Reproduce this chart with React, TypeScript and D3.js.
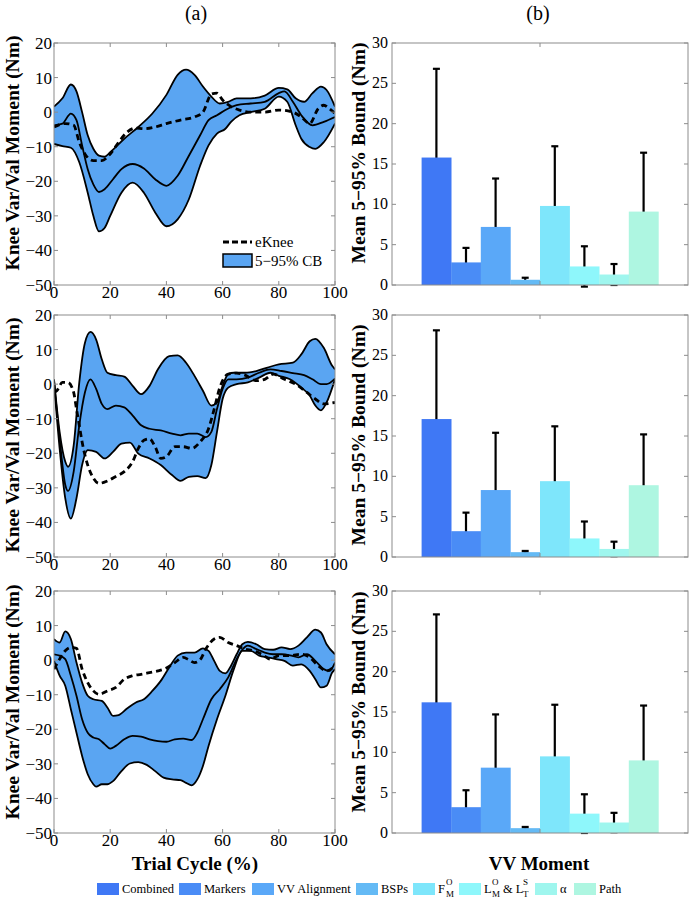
import React from "react";
import * as d3 from "d3";

// ---- bar data (panel b) ----
const categories = ["Combined", "Markers", "VV Alignment", "BSPs", "FMO", "LMO & LTS", "alpha", "Path"];
const barColors = ["#3f78f5", "#4a8cf6", "#5aa8f8", "#64baf5", "#7ee6fb", "#8ef7fb", "#9ff6ee", "#aef6e1"];

const barMeanTop = [15.8, 2.8, 7.2, 0.65, 9.8, 2.3, 1.3, 9.1];
const barErrTop = [11.0, 1.8, 6.0, 0.25, 7.4, 2.5, 1.3, 7.3];
const barMeanMid = [17.1, 3.2, 8.3, 0.6, 9.4, 2.3, 1.0, 8.9];
const barErrMid = [11.0, 2.3, 7.1, 0.15, 6.8, 2.1, 0.9, 6.3];
const barMeanBot = [16.2, 3.2, 8.1, 0.6, 9.5, 2.4, 1.3, 9.0];
const barErrBot = [10.9, 2.1, 6.6, 0.15, 6.4, 2.4, 1.2, 6.8];

// ---- curve data (panel a), [cycle %, Nm] ----
const topUpper = [[0, 1.6], [3, 4], [6, 8], [8, 6], [10, 0], [12, -6.7], [14, -10.6], [16, -12.6], [18, -12.9], [20, -11.6], [25, -7.7], [30, -4.3], [35, -0.4], [40, 5], [44, 10.8], [47, 12.3], [50, 10.8], [53, 7.4], [56, 4.5], [59, 2.5], [62, 3], [65, 4], [70, 4], [75, 4.8], [80, 7], [83, 6.6], [86, 4], [89, 3], [92, 5.5], [95, 7.4], [97, 6.4], [100, 1.6]];
const topLower = [[0, -9.2], [3, -9.8], [6, -10.3], [9, -14.5], [12, -23.3], [14, -30], [16, -34.5], [18, -33.5], [20, -30], [24, -23.3], [28, -20.4], [32, -23.3], [36, -29], [40, -33], [44, -31], [48, -25.2], [52, -15.5], [55, -9.6], [58, -6.2], [61, -4.8], [63, -2.8], [66, -0.9], [70, 0], [75, 1], [80, 4.5], [83, 3], [86, -3.8], [88, -7.7], [91, -10.1], [93, -10.6], [96, -8.7], [100, -3.3]];
const topMean = [[0, -3.8], [3, -3.3], [6, -0.4], [8, -2.3], [10, -9.6], [12, -16.5], [14, -20.9], [16, -23.1], [18, -22.3], [21, -19.4], [24, -16.5], [28, -15], [32, -16.3], [36, -19.4], [40, -21.3], [44, -18.4], [48, -12.6], [52, -6.7], [55, -2.3], [58, -0.9], [61, 0.6], [65, 2], [70, 2.5], [75, 3], [80, 5.5], [82, 6], [85, 3], [88, -0.9], [92, -3.8], [96, -2.8], [100, -1.4]];
const topKnee = [[0, -4.3], [4, -3.3], [7, -3.8], [9, -8.7], [11, -12.1], [14, -14], [17, -14], [20, -12.1], [23, -8.7], [26, -5.8], [29, -4.6], [32, -4.8], [36, -4.3], [40, -3.3], [45, -2.3], [50, -1.4], [53, 0], [56, 5.2], [58, 5.5], [60, 3.5], [63, 1.6], [66, 0.6], [70, 0], [75, 0], [80, 0.6], [85, 0], [88, -1.4], [91, -3.3], [94, 1], [96, 2], [98, 1], [100, -0.4]];

const midUpper = [[0, 1.4], [2, -13.8], [4, -22.4], [5, -23.9], [7, -17.7], [9, 0.5], [11, 11.9], [13, 15.1], [15, 12.9], [17, 7.2], [19, 3.3], [22, 2.6], [25, 2.2], [28, -0.5], [31, -2.9], [34, -0.5], [37, 4.3], [41, 8.1], [44, 8.3], [47, 6.2], [50, 2.4], [53, -1.9], [56, -6.2], [58, -5.3], [60, -0.5], [62, 2.9], [64, 3.3], [68, 3.3], [72, 3.8], [76, 4.8], [80, 5.7], [85, 6.2], [88, 8.6], [91, 12.4], [93, 13.1], [96, 10.5], [99, 5.3], [100, 4.3]];
const midLower = [[0, 0.5], [2, -18.6], [4, -33], [6, -38.9], [8, -33], [10, -23.4], [12, -19.1], [15, -19.6], [18, -21.5], [21, -19.6], [24, -17.2], [27, -16.9], [30, -20.1], [34, -21.5], [38, -23.4], [42, -26.3], [45, -28], [48, -26.8], [51, -26.6], [54, -27.2], [56, -23.4], [58, -13.8], [60, -4.3], [62, -1], [65, 0], [69, 0.5], [73, 1.9], [77, 3.3], [80, 2.4], [84, 1.4], [88, -1], [91, -3.3], [93, -6.2], [95, -7.6], [97, -5.3], [100, 1.4]];
const midMean = [[0, 1], [2, -15.8], [4, -29.1], [5, -30.9], [7, -25.3], [9, -11.9], [11, -2.4], [13, 1.4], [15, -1.4], [17, -5.7], [19, -7.2], [22, -6.2], [25, -6.7], [28, -9.1], [31, -11.9], [34, -12.9], [38, -13.4], [42, -14.3], [45, -14.8], [48, -14.3], [51, -14.3], [54, -15.3], [56, -13.8], [58, -7.2], [60, -1.4], [62, 1.4], [65, 1.4], [69, 1.9], [73, 3.3], [77, 4.3], [81, 3.8], [85, 3.2], [89, 2.6], [92, 1.4], [95, 0], [97, 0], [100, 1.6]];
const midKnee = [[0, -2.4], [1, -1.9], [3, 0.5], [5, 0.5], [7, -2.4], [8, -7.2], [9, -11.9], [10, -16.7], [12, -23.4], [14, -27.2], [16, -28.7], [19, -28], [22, -26.7], [25, -25.3], [28, -22.4], [30, -18.6], [32, -16.2], [34, -15.8], [36, -18.1], [38, -21.5], [40, -21], [43, -18.1], [46, -18.1], [49, -18.6], [52, -16.7], [55, -12.9], [57, -7.2], [59, -1], [62, 2.9], [65, 3.2], [68, 2.6], [72, 1], [75, 1.4], [78, 2.9], [82, 1.4], [86, 0], [90, -2.4], [93, -4.3], [96, -5.7], [100, -5.3]];

const botUpper = [[0, 6.1], [2, 5.1], [4, 8.3], [6, 6.1], [8, -0.7], [10, -6.5], [12, -10.3], [14, -11.3], [17, -11.8], [19, -13.7], [21, -16.1], [23, -15.9], [26, -14], [29, -12.3], [32, -11.3], [35, -8.9], [38, -6], [41, -2.1], [44, 1.3], [47, 2.2], [50, 2.2], [53, 3.4], [55, 2.7], [57, -0.2], [59, -3.1], [61, -3.8], [63, -1.6], [65, 1.7], [67, 4.6], [69, 5.3], [72, 4.6], [75, 3.2], [78, 3], [81, 3.7], [84, 3.2], [87, 4.2], [90, 6.6], [93, 8.8], [95, 8], [97, 4.6], [100, 1.7]];
const botLower = [[0, -0.2], [2, -4.5], [4, -7.4], [6, -14.2], [8, -21], [10, -27.7], [12, -33], [14, -35.9], [15, -36.6], [17, -35.9], [19, -35.9], [21, -35], [24, -32.1], [27, -29.9], [30, -29.5], [33, -30.3], [36, -32.1], [39, -34], [42, -34.5], [45, -34.7], [47, -35.5], [49, -36.2], [51, -34.5], [53, -30.6], [55, -24.8], [58, -17.1], [61, -10.3], [64, -2.6], [67, 2.7], [70, 2.7], [73, 1.3], [76, 0.8], [79, 0.3], [82, -0.2], [85, -1.6], [88, -1.2], [91, -3.1], [93, -5.5], [95, -7.9], [97, -7.4], [99, -3.6], [100, -2.6]];
const botMean = [[0, 1.7], [2, 1.3], [4, 0.3], [6, -4.5], [8, -10.3], [10, -17.1], [12, -21], [14, -22.4], [16, -22.9], [18, -24.3], [20, -25.6], [22, -24.8], [25, -22.9], [28, -21.9], [31, -22.1], [34, -22.9], [37, -23.4], [40, -23.6], [43, -22.9], [46, -22.7], [49, -23.1], [51, -21], [53, -17.1], [56, -11.3], [59, -8.4], [62, -5], [65, 0.3], [67, 3], [69, 4.2], [72, 3.2], [75, 2.2], [78, 1.7], [81, 1.7], [84, 1.4], [87, 0.8], [90, 1.7], [93, -0.2], [96, -2.6], [98, -3.1], [100, -0.7]];
const botKnee = [[0, -2.6], [2, 0.3], [4, 2.7], [6, 3.7], [8, 3.4], [10, -2.6], [12, -6.5], [14, -8.9], [16, -9.9], [19, -8.9], [22, -7.9], [25, -5.5], [28, -4.5], [31, -4.1], [34, -3.6], [37, -3.1], [40, -2.3], [43, -0.7], [46, 0.8], [48, 0.1], [50, -0.7], [52, 0.1], [54, 3.2], [57, 6.1], [59, 6.6], [62, 5.1], [65, 4.2], [68, 3.2], [71, 2.7], [74, 1.7], [77, 0.3], [80, 1.3], [84, 1.3], [88, 1.7], [91, 0.8], [94, -1.6], [97, -3.1], [100, -1.6]];

const lineTicksX = [0, 20, 40, 60, 80, 100];
const lineTicksY = [20, 10, 0, -10, -20, -30, -40, -50];
const barTicksY = [0, 5, 10, 15, 20, 25, 30];

const SERIF = "'Liberation Serif', 'Times New Roman', serif";
const FRAME = "#8c8c8c";
const BAND = "#5aa5f2";

const panelTops = [43, 315, 591];
const panelH = 242;
const labelShift = [-11, -1, -10];

const lineSets = [
  { upper: topUpper, lower: topLower, mean: topMean, knee: topKnee },
  { upper: midUpper, lower: midLower, mean: midMean, knee: midKnee },
  { upper: botUpper, lower: botLower, mean: botMean, knee: botKnee },
];
const barSets = [
  { mean: barMeanTop, err: barErrTop },
  { mean: barMeanMid, err: barErrMid },
  { mean: barMeanBot, err: barErrBot },
];

const LinePanel = ({ idx }: { idx: number }) => {
  const top = panelTops[idx];
  const left = 54, right = 335, bottom = top + panelH;
  const x = d3.scaleLinear().domain([0, 100]).range([left, right]);
  const y = d3.scaleLinear().domain([-50, 20]).range([bottom, top]);
  const s = lineSets[idx];

  // band between upper and lower, sampled on a shared grid from the two curves
  const upperPath = d3.line<number[]>().x(d => x(d[0])).y(d => y(d[1])).curve(d3.curveMonotoneX);
  const bandPath =
    upperPath(s.upper)! +
    "L" + upperPath([...s.lower].reverse())!.slice(1) + "Z";
  const line = d3.line<number[]>().x(d => x(d[0])).y(d => y(d[1])).curve(d3.curveMonotoneX);
  const clipId = "clipL" + idx;

  return (
    <g>
      <defs>
        <clipPath id={clipId}>
          <rect x={left} y={top} width={right - left} height={bottom - top} />
        </clipPath>
      </defs>
      <g clipPath={`url(#${clipId})`}>
        <path d={bandPath} fill={BAND} stroke="none" />
        <path d={line(s.upper)!} fill="none" stroke="#000" strokeWidth={1.8} />
        <path d={line(s.lower)!} fill="none" stroke="#000" strokeWidth={1.8} />
        <path d={line(s.mean)!} fill="none" stroke="#000" strokeWidth={1.8} />
        <path d={line(s.knee)!} fill="none" stroke="#000" strokeWidth={2.8} strokeDasharray="6,4" />
      </g>
      <rect x={left} y={top} width={right - left} height={bottom - top} fill="none" stroke={FRAME} strokeWidth={1} />
      {lineTicksX.map(t => (
        <g key={"x" + t}>
          <line x1={x(t)} x2={x(t)} y1={bottom} y2={bottom - 4} stroke={FRAME} />
          <line x1={x(t)} x2={x(t)} y1={top} y2={top + 4} stroke={FRAME} />
          <text x={x(t)} y={bottom + 13} textAnchor="middle" fontFamily={SERIF} fontSize={17}>{t}</text>
        </g>
      ))}
      {lineTicksY.map(t => (
        <g key={"y" + t}>
          <line x1={left} x2={left + 4} y1={y(t)} y2={y(t)} stroke={FRAME} />
          <line x1={right} x2={right - 4} y1={y(t)} y2={y(t)} stroke={FRAME} />
          <text x={left - 2} y={y(t) + 6} textAnchor="end" fontFamily={SERIF} fontSize={17}>{t < 0 ? "\u2212" + (-t) : t}</text>
        </g>
      ))}
      <text transform={`translate(12,${(top + bottom) / 2 + labelShift[idx]}) rotate(-90)`} dy="0.35em"
        textAnchor="middle" fontFamily={SERIF} fontWeight="bold" fontSize={19.5}>Knee Var/Val Moment (Nm)</text>
      {idx === 0 && (
        <g fontFamily={SERIF} fontSize={15}>
          <line x1={223} x2={252} y1={top + 199} y2={top + 199} stroke="#000" strokeWidth={2.8} strokeDasharray="6,3" />
          <text x={255} y={top + 204}>eKnee</text>
          <rect x={223} y={top + 211} width={29} height={13} fill={BAND} stroke="#000" strokeWidth={1.5} />
          <text x={255} y={top + 223}>5{"\u2212"}95% CB</text>
        </g>
      )}
    </g>
  );
};

const BarPanel = ({ idx }: { idx: number }) => {
  const top = panelTops[idx];
  const left = 392, right = 688, bottom = top + panelH;
  const x = d3.scaleLinear().domain([0.5, 1.5]).range([left, right]);
  const y = d3.scaleLinear().domain([0, 30]).range([bottom, top]);
  const band = d3.scaleBand().domain(categories).range([x(0.6), x(1.4)]).padding(0);
  const s = barSets[idx];
  return (
    <g>
      {categories.map((c, i) => {
        const cx = band(c)! + band.bandwidth() / 2;
        const hi = s.mean[i] + s.err[i];
        const lo = s.mean[i] - s.err[i];
        return (
          <g key={"e" + c} stroke="#000" strokeWidth={2.2}>
            <line x1={cx} x2={cx} y1={y(hi)} y2={y(lo)} />
            <line x1={cx - 3.5} x2={cx + 3.5} y1={y(hi)} y2={y(hi)} />
            <line x1={cx - 3.5} x2={cx + 3.5} y1={y(lo)} y2={y(lo)} />
          </g>
        );
      })}
      {categories.map((c, i) => (
        <rect key={"b" + c} x={band(c)!} y={y(s.mean[i])} width={band.bandwidth() + 0.3}
          height={y(0) - y(s.mean[i])} fill={barColors[i]} />
      ))}
      <rect x={left} y={top} width={right - left} height={bottom - top} fill="none" stroke={FRAME} strokeWidth={1} />
      <line x1={x(1)} x2={x(1)} y1={top} y2={top + 4} stroke={FRAME} />
      <line x1={x(1)} x2={x(1)} y1={bottom} y2={bottom - 4} stroke={FRAME} />
      {barTicksY.map(t => (
        <g key={"y" + t}>
          <line x1={left} x2={left + 4} y1={y(t)} y2={y(t)} stroke={FRAME} />
          <line x1={right} x2={right - 4} y1={y(t)} y2={y(t)} stroke={FRAME} />
          <text x={left - 4} y={y(t) + 5} textAnchor="end" fontFamily={SERIF} fontSize={16}>{t}</text>
        </g>
      ))}
      <text transform={`translate(358,${(top + bottom) / 2 + labelShift[idx]}) rotate(-90)`} dy="0.35em"
        textAnchor="middle" fontFamily={SERIF} fontWeight="bold" fontSize={19.5}>Mean 5{"\u2212"}95% Bound (Nm)</text>
    </g>
  );
};

// legend item layout (swatch left edges)
const legendX = [97, 179, 252, 356, 413, 459, 535, 574];

const LegendLabel = ({ i, tx, ty }: { i: number; tx: number; ty: number }) => {
  const c = categories[i];
  if (c === "FMO") {
    return (
      <g>
        <text x={tx} y={ty}>F</text>
        <text x={tx + 8} y={ty - 8} fontSize={9}>O</text>
        <text x={tx + 8} y={ty + 4} fontSize={9}>M</text>
      </g>
    );
  }
  if (c === "LMO & LTS") {
    return (
      <g>
        <text x={tx} y={ty}>L</text>
        <text x={tx + 8} y={ty - 8} fontSize={9}>O</text>
        <text x={tx + 8} y={ty + 4} fontSize={9}>M</text>
        <text x={tx + 19} y={ty}>&amp; L</text>
        <text x={tx + 39} y={ty - 8} fontSize={9}>S</text>
        <text x={tx + 39} y={ty + 4} fontSize={9}>T</text>
      </g>
    );
  }
  return <text x={tx} y={ty}>{c === "alpha" ? "\u03b1" : c}</text>;
};

export default function App() {
  return (
    <svg width={691} height={900} style={{ position: "absolute", left: 0, top: 0, background: "#fff" }}>
      <rect width={691} height={900} fill="#fff" />
      <text x={196} y={20} textAnchor="middle" fontFamily={SERIF} fontSize={20}>(a)</text>
      <text x={538} y={20} textAnchor="middle" fontFamily={SERIF} fontSize={20}>(b)</text>
      {[0, 1, 2].map(i => <LinePanel key={"l" + i} idx={i} />)}
      {[0, 1, 2].map(i => <BarPanel key={"b" + i} idx={i} />)}
      <text x={195} y={870} textAnchor="middle" fontFamily={SERIF} fontWeight="bold" fontSize={19}>Trial Cycle (%)</text>
      <text x={539} y={870} textAnchor="middle" fontFamily={SERIF} fontWeight="bold" fontSize={19}>VV Moment</text>
      <g fontFamily={SERIF} fontSize={12.5}>
        {categories.map((c, i) => (
          <g key={"lg" + c}>
            <rect x={legendX[i]} y={883} width={22} height={12} fill={barColors[i]} />
            <LegendLabel i={i} tx={legendX[i] + 25} ty={893} />
          </g>
        ))}
      </g>
    </svg>
  );
}
